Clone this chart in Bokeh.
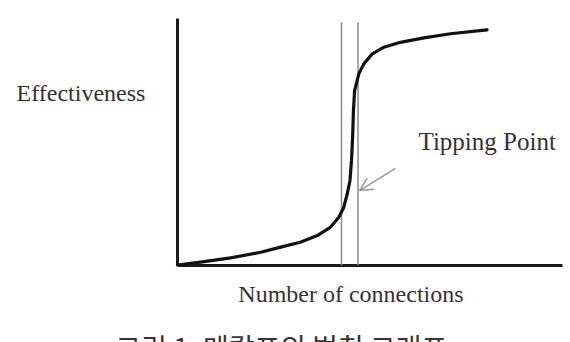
from bokeh.plotting import figure
from bokeh.models import Range1d, Arrow, OpenHead
from bokeh.core.properties import value
from bokeh.embed import file_html
from bokeh.resources import INLINE

# Curve: number of connections vs effectiveness
connections = [0, 6.0, 13.8, 21.6, 26.8, 31.9, 36.3, 39.7, 41.9, 43.2, 44.1, 44.8,
               45.2, 45.5, 45.7, 46.0, 47.1, 48.4, 50.6, 53.6, 57.9, 64.0, 70.9, 80.4]
effectiveness = [0.2, 1.4, 3.1, 5.4, 7.5, 9.5, 12.2, 15.6, 19.7, 23.8, 29.3, 34.7,
                 42.9, 53.1, 63.3, 71.4, 78.2, 82.3, 86.4, 89.1, 91.1, 92.9, 94.6, 96.2]

# Tipping point band boundaries
tipping_band = [42.6, 46.9]
band_top = 99.3

# Axis extents
x_axis_x = [0, 100]
x_axis_y = [0, 0]
y_axis_x = [0, 0]
y_axis_y = [0, 100.8]

# Arrow pointing to tipping point
arrow_start = (56.6, 39.6)
arrow_end = (47.3, 30.6)

y_label = "Effectiveness"
x_label = "Number of connections"
annotation = "Tipping Point"
caption = "그림 1. 메칼프의 법칙 그래프"

p = figure(width=570, height=342, output_backend="svg", toolbar_location=None,
           x_range=Range1d(-177 / 3.85, (570 - 177) / 3.85),
           y_range=Range1d(-(342 - 265) / 2.45, 265 / 2.45),
           min_border=0)
p.axis.visible = False
p.grid.visible = False
p.outline_line_color = None
p.background_fill_color = "white"
p.border_fill_color = "white"

# axes
p.line(x_axis_x, x_axis_y, line_color="#1a1a1a", line_width=3)
p.line(y_axis_x, y_axis_y, line_color="#1a1a1a", line_width=3)

# vertical band lines
for bx in tipping_band:
    p.line([bx, bx], [0, band_top], line_color="#8a8a8a", line_width=1.5)

# S-curve
p.line(connections, effectiveness, line_color="#111111", line_width=3.2,
       line_join="round", line_cap="round")

# arrow
p.add_layout(Arrow(end=OpenHead(size=13, line_color="#999999", line_width=1.5),
                   x_start=arrow_start[0], y_start=arrow_start[1],
                   x_end=arrow_end[0], y_end=arrow_end[1],
                   line_color="#999999", line_width=1.5))

serif = value("Liberation Serif")
p.text(x=[-41.8], y=[70.6], text=[y_label], text_font=serif, text_font_size="24px",
       text_color="#333333", text_baseline="middle", text_align="left")
p.text(x=[62.6], y=[50.6], text=[annotation], text_font=serif, text_font_size="25px",
       text_color="#333333", text_baseline="middle", text_align="left")
p.text(x=[15.8], y=[-11.8], text=[x_label], text_font=serif, text_font_size="24px",
       text_color="#333333", text_baseline="middle", text_align="left")
p.text(x=[-16.1], y=[-25.3], text=[caption], text_font=value("Noto Sans CJK KR"),
       text_font_size="28px", text_color="#333333", text_baseline="top",
       text_align="left")

open("out.html", "w").write(file_html(p, INLINE))
